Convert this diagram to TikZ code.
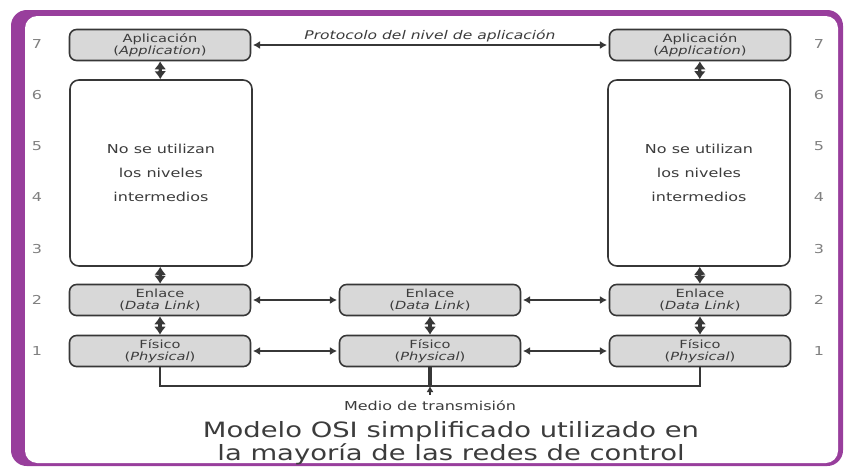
\documentclass[tikz,border=0pt]{standalone}
\usepackage{fontspec}
\setmainfont[FakeStretch=1.3]{DejaVu Sans}
\usepackage{xcolor}
\usepackage{tikz}
\usetikzlibrary{arrows.meta,positioning,calc}
\definecolor{framecol}{RGB}{152,62,156}
\definecolor{boxcol}{RGB}{216,216,216}
\definecolor{linecol}{RGB}{55,55,55}
\definecolor{txtcol}{RGB}{60,60,60}

\begin{document}
\begin{tikzpicture}[x=0.02cm,y=-0.02cm,
  layerbox/.style={draw=linecol,line width=0.9pt,fill=boxcol,rounded corners=4pt,
    minimum width=3.62cm,minimum height=0.62cm,inner sep=0pt,align=center,
    text=txtcol,font=\fontsize{6.4}{7}\selectfont},
  emptybox/.style={draw=linecol,line width=0.9pt,fill=white,rounded corners=5pt,
    minimum width=3.64cm,minimum height=3.72cm,inner sep=0pt,align=center,
    text=txtcol,font=\fontsize{7}{13.5}\selectfont},
  vlink/.style={line width=1.8pt,linecol,{Latex[length=1.6mm,width=2.4mm]}-{Latex[length=1.6mm,width=2.4mm]}},
  hlink/.style={line width=0.9pt,linecol,{Latex[length=1.4mm,width=1.6mm]}-{Latex[length=1.4mm,width=1.6mm]},shorten <=1pt,shorten >=1pt},
  lvl/.style={text=gray,font=\fontsize{7}{8}\selectfont}]
  \useasboundingbox (0,0) rectangle (844,467);
  % frame
  \fill[framecol,rounded corners=9pt] (11,10) rectangle (843,466);
  \fill[white,rounded corners=7pt] (25,16) rectangle (838,463);
  % level numbers
  \foreach \n in {1,...,7} {
    \node[lvl] (numL\n) at (37,{351-(\n-1)*51.2}) {\n};
    \node[lvl] (numR\n) at (819,{351-(\n-1)*51.2}) {\n};
  }
  % stacks
  \node[layerbox] (appL) at (160,45) {Aplicación\\(\textit{Application})};
  \node[layerbox] (appR) at (700,45) {Aplicación\\(\textit{Application})};
  \node[emptybox] (midL) at (161,173) {No se utilizan\\los niveles\\intermedios};
  \node[emptybox] (midR) at (699,173) {No se utilizan\\los niveles\\intermedios};
  \node[layerbox] (enlL) at (160,300) {Enlace\\(\textit{Data Link})};
  \node[layerbox] (enlM) at (430,300) {Enlace\\(\textit{Data Link})};
  \node[layerbox] (enlR) at (700,300) {Enlace\\(\textit{Data Link})};
  \node[layerbox] (fisL) at (160,351) {Físico\\(\textit{Physical})};
  \node[layerbox] (fisM) at (430,351) {Físico\\(\textit{Physical})};
  \node[layerbox] (fisR) at (700,351) {Físico\\(\textit{Physical})};
  % vertical links
  \draw[vlink] (appL) -- (midL);
  \draw[vlink] (midL) -- (enlL);
  \draw[vlink] (enlL) -- (fisL);
  \draw[vlink] (appR) -- (midR);
  \draw[vlink] (midR) -- (enlR);
  \draw[vlink] (enlR) -- (fisR);
  \draw[vlink] (enlM) -- (fisM);
  % horizontal links
  \draw[hlink] (appL) -- node[above,inner sep=1.5pt,text=txtcol,font=\fontsize{6.8}{8}\selectfont\itshape] (prot) {Protocolo del nivel de aplicación} (appR);
  \draw[hlink] (enlL) -- (enlM);
  \draw[hlink] (enlM) -- (enlR);
  \draw[hlink] (fisL) -- (fisM);
  \draw[hlink] (fisM) -- (fisR);
  % transmission medium
  \coordinate (busM) at (430,386);
  \draw[line width=1.4pt,linecol] (fisL.south) |- (busM) -| (fisR.south);
  \draw[line width=1.8pt,linecol] (fisM.south) -- (busM);
  \node[text=txtcol,font=\fontsize{7}{8}\selectfont] (medio) at (430,406) {Medio de transmisión};
  \draw[line width=0.8pt,linecol,-{Latex[length=1.2mm,width=1.4mm]}] (medio.north) -- (busM);
  % caption
  \node[text=txtcol,align=center,font=\fontsize{12}{11.5}\selectfont] (title) at (451,443)
    {Modelo OSI simplificado utilizado en\\la mayoría de las redes de control};
\end{tikzpicture}
\end{document}
